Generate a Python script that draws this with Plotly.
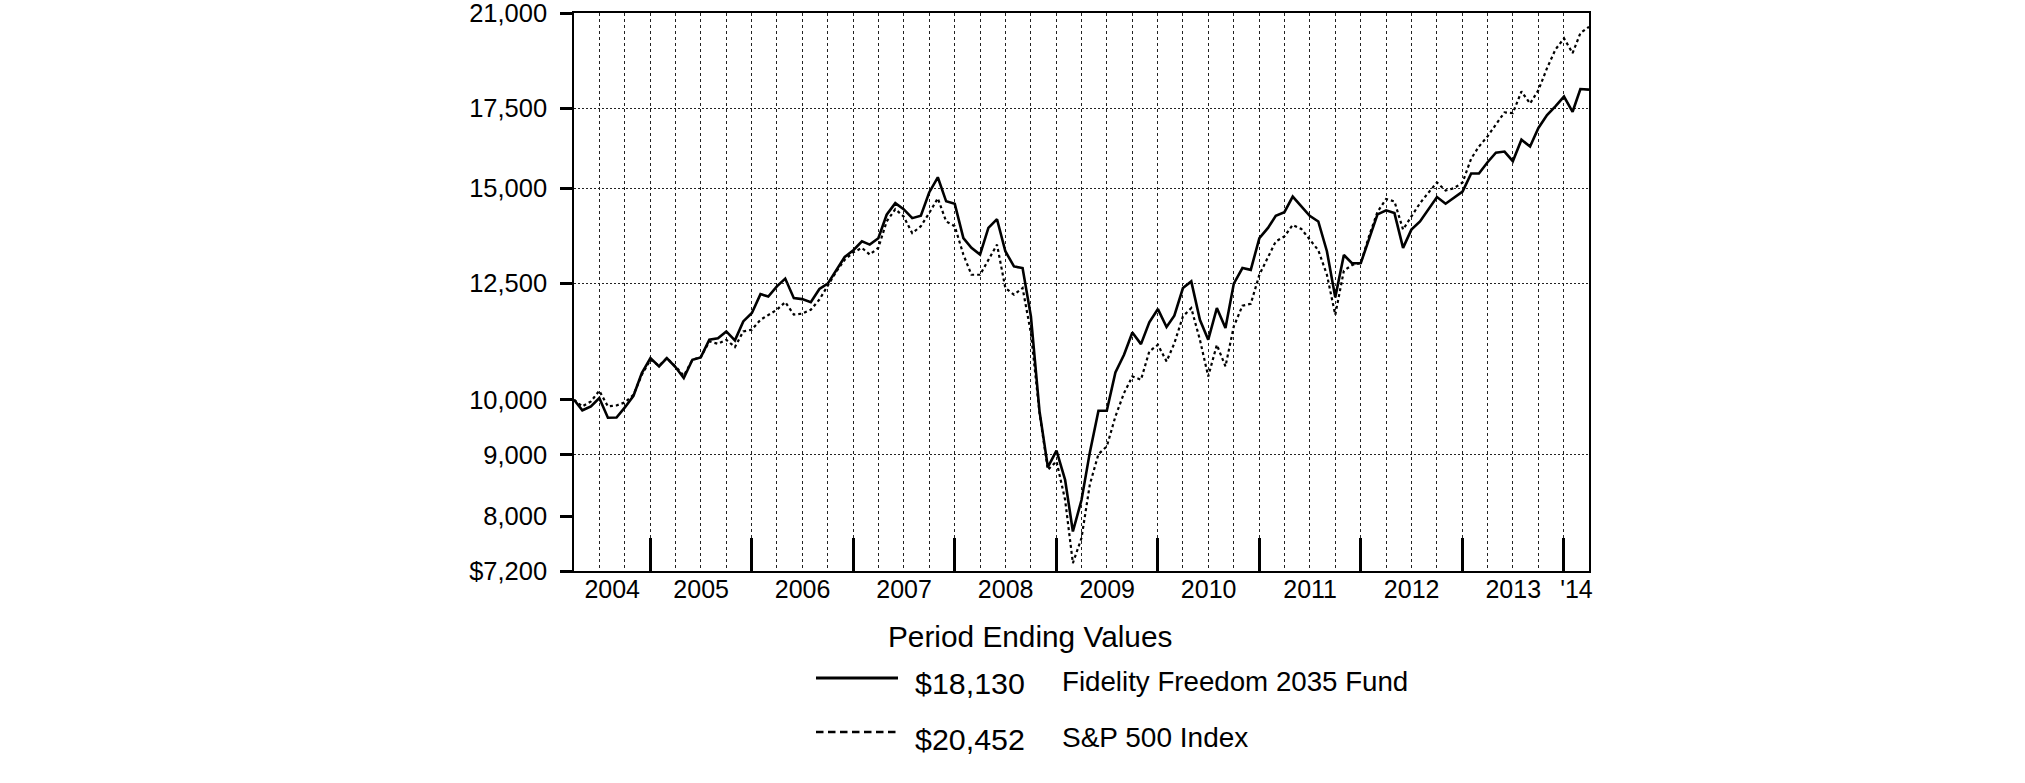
import math
import pandas as pd
import plotly.graph_objects as go

# ---------------- data (monthly period-ending values, Mar-2004 .. Mar-2014) ----------------
start_month = "2004-04-01"
n_months = 121
fund_name = "Fidelity Freedom 2035 Fund"
index_name = "S&P 500 Index"
fund_end_label = "$18,130"
index_end_label = "$20,452"

fund_values = [
    10000, 9800, 9873, 10032, 9660, 9666, 9854, 10077, 10525, 10833,
    10661, 10833, 10647, 10425, 10797, 10846, 11220, 11250, 11401, 11207,
    11622, 11810, 12247, 12190, 12431, 12617, 12152, 12129, 12058, 12367,
    12496, 12833, 13150, 13322, 13550, 13467, 13634, 14261, 14581, 14415,
    14168, 14232, 14884, 15323, 14633, 14563, 13634, 13383, 13211, 13904,
    14139, 13297, 12915, 12874, 11735, 9779, 8787, 9069, 8577, 7767,
    8250, 9040, 9790, 9790, 10538, 10902, 11379, 11126, 11600, 11900,
    11497, 11749, 12390, 12549, 11659, 11220, 11923, 11474, 12496, 12875,
    12830, 13634, 13904, 14233, 14330, 14765, 14487, 14233, 14078, 13297,
    12170, 13200, 12990, 13000, 13640, 14270, 14382, 14306, 13383, 13860,
    14078, 14415, 14754, 14565, 14725, 14910, 15435, 15435, 15773, 16066,
    16098, 15804, 16468, 16255, 16845, 17268, 17557, 17891, 17375, 18150,
    18130,
]

index_values = [
    10000, 9873, 9968, 10174, 9873, 9892, 9949, 10096, 10491, 10797,
    10675, 10833, 10661, 10471, 10797, 10853, 11184, 11133, 11220, 11063,
    11401, 11440, 11658, 11774, 11885, 12058, 11774, 11797, 11885, 12120,
    12431, 12790, 13080, 13269, 13383, 13211, 13383, 14078, 14415, 14213,
    13767, 13950, 14307, 14718, 14078, 13950, 13211, 12710, 12710, 13077,
    13467, 12390, 12232, 12390, 11364, 9747, 8744, 8885, 8254, 7310,
    7670, 8500, 9010, 9144, 9685, 10129, 10458, 10392, 10972, 11111,
    10764, 11143, 11735, 11923, 11220, 10458, 11111, 10661, 11511, 11976,
    12022, 12710, 13124, 13550, 13680, 13985, 13877, 13594, 13322, 12710,
    11770, 12810, 12950, 13000, 13720, 14340, 14697, 14630, 13860, 14217,
    14581, 14884, 15170, 14938, 15005, 15170, 15882, 16255, 16574, 16957,
    17355, 17333, 18066, 17651, 18111, 18892, 19574, 20004, 19444, 20204,
    20452,
]

y_tick_values = [7200, 8000, 9000, 10000, 12500, 15000, 17500, 21000]
y_tick_labels = ["$7,200", "8,000", "9,000", "10,000", "12,500", "15,000", "17,500", "21,000"]
y_grid_values = [9000, 12500, 15000, 17500]
year_labels = ["2004", "2005", "2006", "2007", "2008", "2009", "2010", "2011", "2012", "2013", "'14"]

# ---------------- derived x positions ----------------
dates = pd.date_range(start_month, periods=n_months, freq="MS") - pd.Timedelta(days=1)
x_dates = [d.strftime("%Y-%m-%d") for d in dates]
x_start, x_end = dates[0], dates[-1]
quarter_ends = [d.strftime("%Y-%m-%d") for d in dates if d.month in (3, 6, 9, 12)]
years = sorted(set(d.year for d in dates))
year_bounds = [f"{y}-12-31" for y in years if pd.Timestamp(f"{y}-12-31") < x_end]
label_pos = []
for y in years:
    a = max(pd.Timestamp(f"{y - 1}-12-31"), x_start)
    b = min(pd.Timestamp(f"{y}-12-31"), x_end)
    label_pos.append((a + (b - a) / 2).strftime("%Y-%m-%d %H:%M"))

# ---------------- layout geometry ----------------
W, H = 2025, 783
ML, MR, MT, MB = 574, 436, 13, 212
PW, PH = W - ML - MR, H - MT - MB


def px(x):
    """page pixel x -> paper coordinate"""
    return (x - ML) / PW


def py(y):
    """page pixel y -> paper coordinate"""
    return (H - MB - y) / PH


FONT = "Arial, Liberation Sans, Helvetica, sans-serif"
yrange = [math.log10(y_tick_values[0]), math.log10(y_tick_values[-1])]
xrange = [x_start.strftime("%Y-%m-%d"), x_end.strftime("%Y-%m-%d")]

fig = go.Figure()
fig.add_trace(go.Scatter(x=x_dates, y=index_values, mode="lines", name=index_name,
                         line=dict(color="black", width=2.2, dash="3px,3px"), showlegend=False))
fig.add_trace(go.Scatter(x=x_dates, y=fund_values, mode="lines", name=fund_name,
                         line=dict(color="black", width=2.6), showlegend=False))
# invisible carriers so the overlay axes (year ticks, year labels, grid) are drawn
fig.add_trace(go.Scatter(x=x_dates, y=fund_values, xaxis="x2", yaxis="y2", mode="lines",
                         line=dict(width=0, color="rgba(0,0,0,0)"), hoverinfo="skip", showlegend=False))
fig.add_trace(go.Scatter(x=x_dates, y=fund_values, xaxis="x3", yaxis="y", mode="lines",
                         line=dict(width=0, color="rgba(0,0,0,0)"), hoverinfo="skip", showlegend=False))

fig.update_layout(
    width=W, height=H,
    margin=dict(l=ML, r=MR, t=MT, b=MB, pad=0, autoexpand=False),
    paper_bgcolor="white", plot_bgcolor="white",
    font=dict(family=FONT, color="black", size=25),
    showlegend=False,
    xaxis=dict(
        type="date", range=xrange, tickmode="array", tickvals=quarter_ends,
        showticklabels=False, ticks="", showgrid=True, gridcolor="#222",
        gridwidth=1, griddash="3px,3px", showline=True, linecolor="black",
        linewidth=1.5, mirror=True, zeroline=False, automargin=False,
    ),
    xaxis2=dict(
        type="date", range=xrange, overlaying="x", anchor="y2", side="bottom",
        tickmode="array", tickvals=year_bounds, ticks="inside", ticklen=33,
        tickwidth=2.5, tickcolor="black", showticklabels=False, showgrid=False,
        showline=False, zeroline=False, automargin=False,
    ),
    xaxis3=dict(
        type="date", range=xrange, overlaying="x", anchor="y", side="bottom",
        tickmode="array", tickvals=label_pos, ticktext=year_labels, ticks="",
        showgrid=False, showline=False, zeroline=False, automargin=False,
        tickfont=dict(family=FONT, size=25, color="black"), ticklabelstandoff=1,
    ),
    yaxis=dict(
        type="log", range=yrange, tickmode="array", tickvals=y_tick_values,
        ticktext=y_tick_labels, ticks="outside", ticklen=12, tickwidth=2.5,
        tickcolor="black", showgrid=False, showline=True, linecolor="black",
        linewidth=1.5, mirror=True, zeroline=False, ticklabeloverflow="allow",
        ticklabelstandoff=8, automargin=False,
        tickfont=dict(family=FONT, size=25.5, color="black"),
    ),
    yaxis2=dict(
        type="log", range=yrange, overlaying="y", anchor="x2", tickmode="array",
        tickvals=y_grid_values, showticklabels=False, ticks="", showgrid=True,
        gridcolor="#222", gridwidth=1, griddash="2px,2px", showline=False,
        zeroline=False, automargin=False,
    ),
)

# ---------------- custom legend ----------------
ann = [
    dict(text="Period Ending Values", x=px(886), y=py(636), size=29.8),
    dict(text=fund_end_label, x=px(913), y=py(683), size=30.4),
    dict(text=fund_name, x=px(1060), y=py(681), size=27.7),
    dict(text=index_end_label, x=px(913), y=py(739), size=30.4),
    dict(text=index_name, x=px(1060), y=py(737), size=28),
]
for a in ann:
    fig.add_annotation(text=a["text"], x=a["x"], y=a["y"], xref="paper", yref="paper",
                       xanchor="left", yanchor="middle", showarrow=False,
                       font=dict(family=FONT, size=a["size"], color="black"))

fig.add_shape(type="line", xref="paper", yref="paper", x0=px(816), x1=px(898), y0=py(678), y1=py(678),
              line=dict(color="black", width=3))
fig.add_shape(type="line", xref="paper", yref="paper", x0=px(816), x1=px(898), y0=py(732), y1=py(732),
              line=dict(color="black", width=2.5, dash="7.5px,4.5px"))

fig.write_html("out.html", config={"displayModeBar": False},
               post_script="document.body.style.margin='0';")
